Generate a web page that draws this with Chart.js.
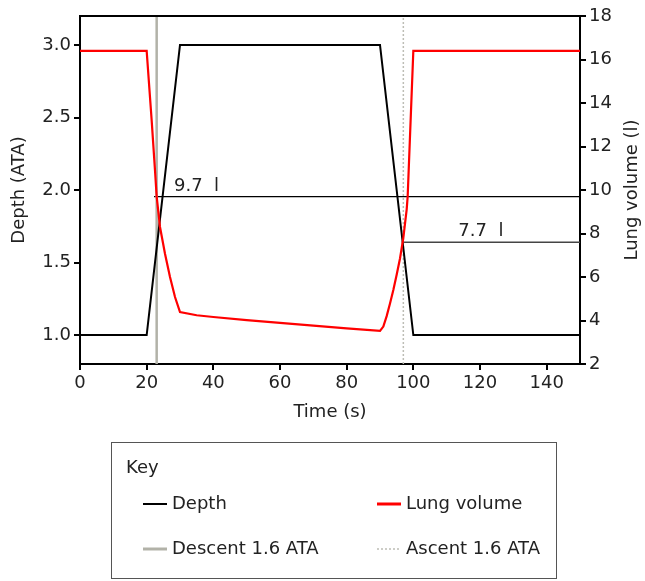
<!DOCTYPE html>
<html>
<head>
<meta charset="utf-8">
<script src="https://cdn.jsdelivr.net/npm/chart.js@4"></script>
<style>
  html, body { margin: 0; padding: 0; background: #fff; }
</style>
</head>
<body>
<canvas id="diveChart" width="645" height="581"></canvas>
<script>
// Depth profile: time (s) -> depth (ATA)
const depthTime = [0, 20, 30, 90, 100, 150];
const depthAta = [1.0, 1.0, 3.0, 3.0, 1.0, 1.0];

// Lung volume: time (s) -> litres
const lungTime = [0, 20, 21.5, 22.5, 23, 24, 25.5, 27, 28.5, 30, 35, 40, 50, 60, 70, 80, 90, 91, 92, 93, 94, 95, 96, 97, 97.5, 98, 98.3, 100, 150];
const lungVol = [16.4, 16.4, 13.2, 10.9, 9.7, 8.3, 7.07, 6.0, 5.08, 4.39, 4.24, 4.16, 4.02, 3.89, 3.76, 3.64, 3.52, 3.72, 4.2, 4.78, 5.4, 6.1, 6.85, 7.8, 8.45, 9.1, 9.7, 16.4, 16.4];

// 1.6 ATA crossings (s)
const descentTime = 23;
const ascentTime = 97;

// volume marks at the crossings
const markVolume = [9.7, 7.6];
const markStart = [22.2, 96.6];
const markText = ["9.7  l", "7.7  l"];

// tick labels
const timeTicks = [0, 20, 40, 60, 80, 100, 120, 140];
const depthTicks = [1.0, 1.5, 2.0, 2.5, 3.0];
const volumeTicks = [2, 4, 6, 8, 10, 12, 14, 16, 18];

const seriesNames = ["Depth", "Lung volume", "Descent 1.6 ATA", "Ascent 1.6 ATA"];

const FONT = "DejaVu Sans";
const TXT = "#222";

function pts(xs, ys) {
  return xs.map((x, i) => ({ x: x, y: ys[i] }));
}

const extras = {
  id: "extras",
  afterDraw(chart) {
    const ctx = chart.ctx;
    const a = chart.chartArea;
    const sx = chart.scales.x, sv = chart.scales.y1;
    ctx.save();
    // top frame line
    ctx.strokeStyle = "#000";
    ctx.lineWidth = 2;
    ctx.beginPath();
    ctx.moveTo(a.left, a.top);
    ctx.lineTo(a.right, a.top);
    ctx.stroke();

    ctx.fillStyle = TXT;
    ctx.font = "18px " + FONT;
    ctx.textAlign = "center";
    ctx.textBaseline = "middle";
    // axis titles
    ctx.fillText("Time (s)", (a.left + a.right) / 2, 412);
    ctx.save();
    ctx.translate(19, (a.top + a.bottom) / 2);
    ctx.rotate(-Math.PI / 2);
    ctx.fillText("Depth (ATA)", 0, 0);
    ctx.restore();
    ctx.save();
    ctx.translate(632, (a.top + a.bottom) / 2);
    ctx.rotate(-Math.PI / 2);
    ctx.fillText("Lung volume (l)", 0, 0);
    ctx.restore();

    // mark labels
    ctx.textAlign = "left";
    ctx.textBaseline = "alphabetic";
    const labelX = [28.2, 113.5];
    markText.forEach((t, i) => {
      ctx.fillText(t, sx.getPixelForValue(labelX[i]), sv.getPixelForValue(markVolume[i]) - 6);
    });

    // key box
    ctx.strokeStyle = "#555";
    ctx.lineWidth = 1;
    ctx.strokeRect(111.5, 442.5, 445, 136);
    ctx.textBaseline = "middle";
    ctx.fillText("Key", 126, 468);
    const cols = [143, 377];
    const rows = [504, 549];
    const ds = chart.data.datasets;
    for (let i = 0; i < 4; i++) {
      const cx = cols[i % 2], cy = rows[Math.floor(i / 2)];
      const d = ds[i];
      ctx.save();
      ctx.strokeStyle = d.borderColor;
      ctx.lineWidth = d.keyWidth;
      ctx.setLineDash(d.borderDash || []);
      ctx.beginPath();
      ctx.moveTo(cx, cy);
      ctx.lineTo(cx + 24, cy);
      ctx.stroke();
      ctx.restore();
      ctx.fillText(d.label, cx + 29, cy);
    }
    ctx.restore();
  }
};

function tickAxis(extra) {
  return Object.assign({
    grid: { drawOnChartArea: false, drawTicks: true, tickLength: 6, color: "#000", lineWidth: 2 },
    border: { color: "#000", width: 2 },
    ticks: { color: TXT, font: { size: 18, family: FONT }, padding: 3 }
  }, extra);
}

new Chart(document.getElementById("diveChart"), {
  type: "line",
  data: {
    datasets: [
      {
        label: seriesNames[0], data: pts(depthTime, depthAta), yAxisID: "y",
        borderColor: "#000", borderWidth: 2, keyWidth: 2, order: 2
      },
      {
        label: seriesNames[1], data: pts(lungTime, lungVol), yAxisID: "y1",
        borderColor: "#ff0000", borderWidth: 2.2, keyWidth: 3, order: 1
      },
      {
        label: seriesNames[2], data: [{ x: descentTime, y: 0.8 }, { x: descentTime, y: 3.2 }], yAxisID: "y",
        borderColor: "#b2b2a8", borderWidth: 2.5, keyWidth: 3, order: 3
      },
      {
        label: seriesNames[3], data: [{ x: ascentTime, y: 0.8 }, { x: ascentTime, y: 3.2 }], yAxisID: "y",
        borderColor: "#bdbdb5", borderWidth: 1.5, borderDash: [2, 2], keyWidth: 1.5, order: 4
      },
      {
        label: "mark1", data: [{ x: markStart[0], y: markVolume[0] }, { x: 150, y: markVolume[0] }], yAxisID: "y1",
        borderColor: "#000", borderWidth: 1.2, order: 5
      },
      {
        label: "mark2", data: [{ x: markStart[1], y: markVolume[1] }, { x: 150, y: markVolume[1] }], yAxisID: "y1",
        borderColor: "#444", borderWidth: 1.5, order: 5
      }
    ]
  },
  options: {
    responsive: false,
    animation: false,
    devicePixelRatio: 1,
    layout: { padding: { top: 16, left: 0, right: 0, bottom: 0 } },
    elements: { point: { radius: 0 }, line: { tension: 0, fill: false } },
    plugins: { legend: { display: false }, tooltip: { enabled: false } },
    scales: {
      x: tickAxis({
        type: "linear", position: "bottom", min: 0, max: 150,
        afterBuildTicks: s => { s.ticks = timeTicks.map(v => ({ value: v })); },
        afterFit: s => { s.height = 217; }
      }),
      y: tickAxis({
        type: "linear", position: "left", min: 0.8, max: 3.2,
        afterBuildTicks: s => { s.ticks = depthTicks.map(v => ({ value: v })); },
        afterFit: s => { s.width = 80; }
      }),
      y1: tickAxis({
        type: "linear", position: "right", min: 2, max: 18,
        afterBuildTicks: s => { s.ticks = volumeTicks.map(v => ({ value: v })); },
        afterFit: s => { s.width = 65; }
      })
    }
  },
  plugins: [extras]
});
// tick label formatting
const ch = Chart.getChart("diveChart");
ch.options.scales.y.ticks.callback = v => Number(v).toFixed(1);
ch.update();
</script>
</body>
</html>
